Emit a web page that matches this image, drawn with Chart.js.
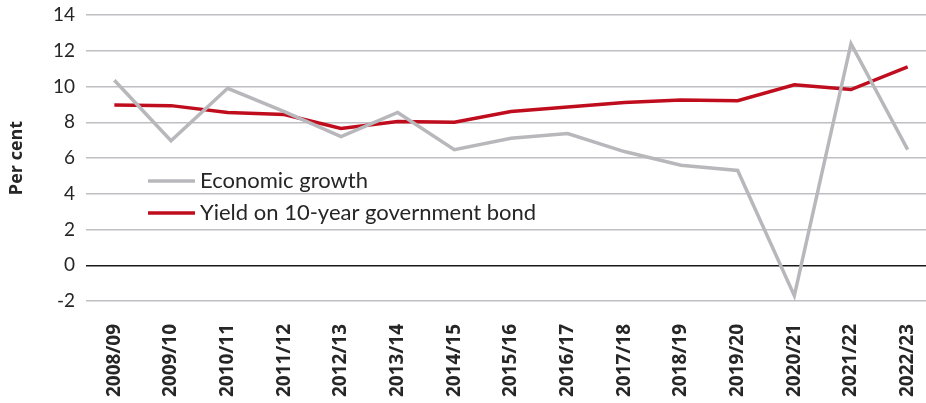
<!DOCTYPE html>
<html>
<head>
<meta charset="utf-8">
<script src="https://cdn.jsdelivr.net/npm/chart.js@4/dist/chart.umd.min.js"></script>
<style>
  html, body { margin: 0; padding: 0; background: #fff; overflow: hidden; }
  #clip { width: 926px; height: 403px; overflow: hidden; }
  #wrap { position: relative; width: 936px; height: 403px; }
</style>
</head>
<body>
<div id="clip"><div id="wrap"><canvas id="line-chart"></canvas></div></div>
<script>
var years = ['2008/09', '2009/10', '2010/11', '2011/12', '2012/13', '2013/14', '2014/15', '2015/16',
             '2016/17', '2017/18', '2018/19', '2019/20', '2020/21', '2021/22', '2022/23'];
var growth = [10.35, 6.97, 9.9, 8.6, 7.2, 8.55, 6.47, 7.1, 7.37, 6.36, 5.6, 5.3, -1.7, 12.4, 6.47];
var bondYield = [8.96, 8.93, 8.54, 8.43, 7.65, 8.04, 8.0, 8.6, 8.85, 9.1, 9.24, 9.2, 10.1, 9.83, 11.1];
var yTicks = [-2, 0, 2, 4, 6, 8, 10, 12, 14];

var fontName = "Lato, 'Open Sans', sans-serif";
var boldFont = "'Open Sans', sans-serif";

// legend drawn inside the plot, like the original
var insideLegend = {
  id: 'insideLegend',
  afterDraw: function(chart) {
    var ctx = chart.ctx;
    var x0 = 148, y0 = 181, gap = 32;
    ctx.save();
    chart.data.datasets.forEach(function(ds, i) {
      var y = y0 + i * gap;
      ctx.strokeStyle = ds.borderColor;
      ctx.lineWidth = 3.5;
      ctx.beginPath();
      ctx.moveTo(x0, y);
      ctx.lineTo(x0 + 47, y);
      ctx.stroke();
      ctx.fillStyle = '#262626';
      ctx.font = '22px ' + fontName;
      ctx.textBaseline = 'middle';
      ctx.fillText(ds.label, x0 + 52, y);
    });
    ctx.restore();
  }
};

new Chart(document.getElementById('line-chart'), {
  type: 'line',
  data: {
    labels: years,
    datasets: [{
        label: 'Economic growth',
        data: growth,
        borderColor: '#b8b8bc',
        borderWidth: 3.5,
        pointRadius: 0,
        tension: 0,
        fill: false
      }, {
        label: 'Yield on 10-year government bond',
        data: bondYield,
        borderColor: '#c00d1e',
        borderWidth: 3.5,
        pointRadius: 0,
        tension: 0,
        fill: false
      }]
  },
  options: {
    responsive: true,
    maintainAspectRatio: false,
    animation: false,
    layout: {
      padding: { top: 15, right: 0, left: 0, bottom: 0 }
    },
    plugins: {
      legend: { display: false },
      tooltip: { enabled: false }
    },
    scales: {
      x: {
        offset: true,
        afterFit: function(axis) {
          axis.height = 102;
          axis.paddingLeft = 0;
          axis.paddingRight = 0;
        },
        grid: { display: false },
        border: { display: false },
        ticks: {
          maxRotation: 90,
          minRotation: 90,
          autoSkip: false,
          color: '#262626',
          padding: 15,
          font: { family: boldFont, size: 19, weight: 'bold' }
        }
      },
      y: {
        min: -2,
        max: 14,
        afterFit: function(axis) {
          axis.width = 86;
          axis.paddingTop = 0;
          axis.paddingBottom = 0;
        },
        afterBuildTicks: function(axis) {
          axis.ticks = yTicks.map(function(v) { return { value: v }; });
        },
        grid: {
          drawTicks: false,
          lineWidth: 1.5,
          color: function(c) { return c.tick && c.tick.value === 0 ? '#1a1a1a' : '#bfbfc3'; }
        },
        border: { display: false },
        ticks: {
          color: '#262626',
          padding: 11,
          font: { family: fontName, size: 19 }
        },
        title: {
          display: true,
          text: 'Per cent',
          color: '#262626',
          padding: { top: 6, bottom: 0 },
          font: { family: boldFont, size: 18, weight: 'bold' }
        }
      }
    }
  },
  plugins: [insideLegend]
});
</script>
</body>
</html>
